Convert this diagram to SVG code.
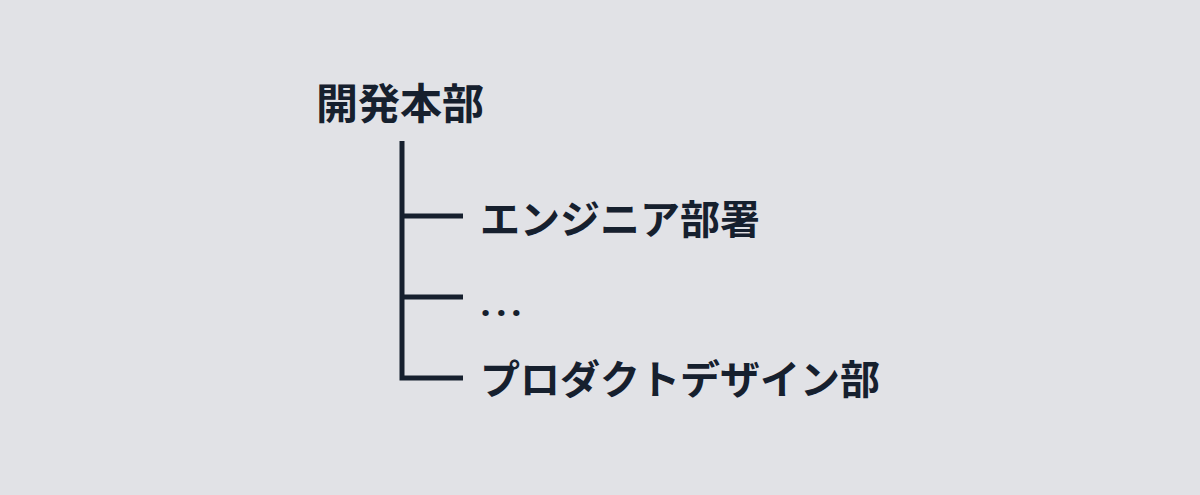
<svg xmlns="http://www.w3.org/2000/svg" width="1200" height="495" viewBox="0 0 1200 495">
<style>
.t{font-family:"Noto Sans CJK JP","Noto Sans",sans-serif;font-weight:700;fill:#16202e;font-size:40px}
.c{stroke:#16202e;stroke-width:5;fill:none}
</style>
<rect width="1200" height="495" fill="#e1e2e6"/>
<g id="root"><text class="t" x="316" y="119" style="font-size:42px">開発本部</text></g>
<g id="n1"><text class="t" x="480" y="234">エンジニア部署</text></g>
<g id="n2"><text class="t" x="480.6 496.3 511.3" y="316" style="font-family:'Noto Sans',sans-serif;font-size:36px">...</text></g>
<g id="n3"><text class="t" x="480" y="394">プロダクトデザイン部</text></g>
<g id="connectors">
<path class="c" d="M402 141 V380.5 M402 216 H463 M402 297 H463 M399.5 378 H463"/>
</g>
</svg>
